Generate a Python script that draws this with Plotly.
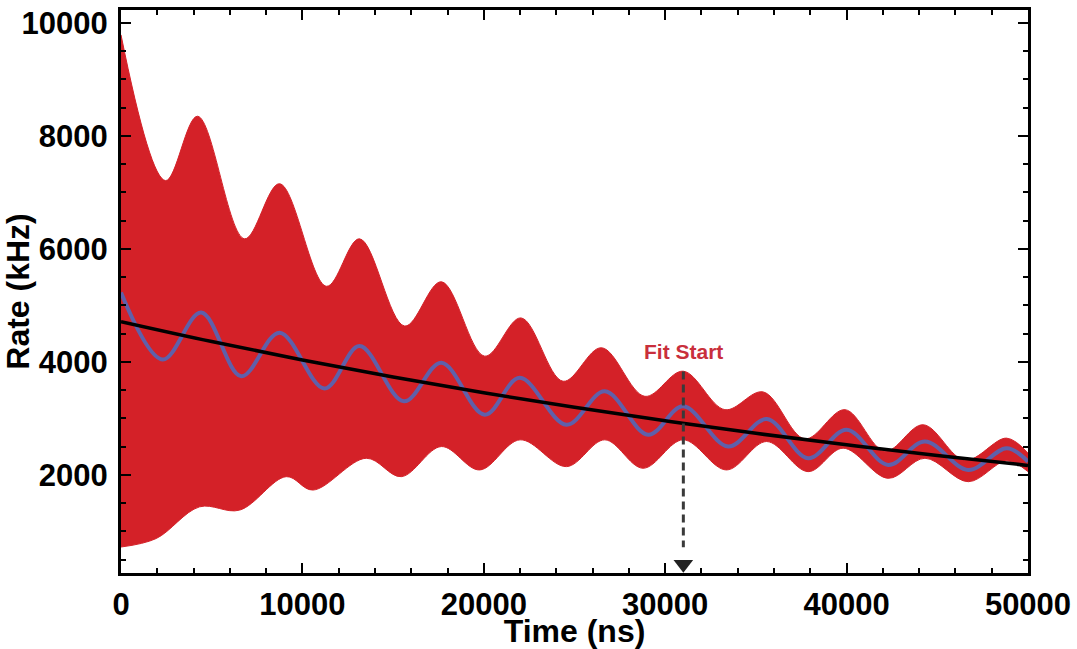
import plotly.graph_objects as go

# ---- data ----
# Upper edge of the red band (time in ns, rate in kHz) - extrema
time_upper = [0, 2455, 4220, 6810, 8740, 11330, 13150, 15640, 17660, 20050, 22050,
              24370, 26490, 28880, 30990, 33290, 35400, 37700, 39910, 42110, 44220,
              46520, 48820, 50000]
rate_upper = [9790, 7210, 8350, 6180, 7155, 5340, 6180, 4636, 5420, 4103, 4780,
              3659, 4252, 3392, 3837, 3156, 3470, 2640, 3156, 2420, 2889,
              2260, 2652, 2385]

# Lower edge of the red band
time_lower = [0, 1940, 4330, 6540, 9110, 10580, 13520, 15450, 17660, 19770, 22000,
              24560, 26670, 28780, 30990, 33380, 35590, 37880, 39810, 42290, 44320,
              46710, 48820, 50000]
rate_lower = [725, 875, 1436, 1378, 1970, 1733, 2296, 1970, 2503, 2089, 2622,
              2148, 2622, 2119, 2622, 2089, 2592, 2059, 2474, 1941, 2296,
              1881, 2250, 2060]

# Blue oscillating curve
time_blue = [0, 2300, 4420, 6630, 8740, 11220, 13150, 15600, 17660, 20050, 21980,
             24560, 26670, 29060, 30990, 33470, 35600, 37880, 40000, 42290, 44320,
             46710, 48830, 50000]
rate_blue = [5230, 4044, 4874, 3748, 4519, 3530, 4281, 3303, 3986, 3067, 3719,
             2889, 3481, 2711, 3215, 2504, 2990, 2296, 2800, 2178, 2592,
             2089, 2474, 2237]

# Black smooth decay curve
time_black = [0, 5000, 10000, 15000, 20000, 25000, 30000, 35000, 40000, 45000, 50000]
rate_black = [4714, 4362, 4036, 3735, 3455, 3197, 2959, 2737, 2533, 2344, 2169]

# Fit start marker
fit_start_time = 31000
fit_arrow_top = 3830
fit_arrow_tip = 420
fit_label_rate = 4190
fit_label = "Fit Start"

x_ticks = [0, 10000, 20000, 30000, 40000, 50000]
y_ticks = [2000, 4000, 6000, 8000, 10000]
x_range = [0, 50000]
y_range = [265, 10230]

RED = "#d42128"
BLUE = "#5f60aa"
FONT = "Liberation Sans, Arial, Helvetica, sans-serif"

fig = go.Figure()

fig.add_trace(go.Scatter(
    x=time_lower, y=rate_lower, mode="lines",
    line=dict(color=RED, width=1, shape="spline", smoothing=1.0),
    hoverinfo="skip", showlegend=False))
fig.add_trace(go.Scatter(
    x=time_upper, y=rate_upper, mode="lines", fill="tonexty", fillcolor=RED,
    line=dict(color=RED, width=1, shape="spline", smoothing=1.0),
    hoverinfo="skip", showlegend=False))
fig.add_trace(go.Scatter(
    x=time_blue, y=rate_blue, mode="lines",
    line=dict(color=BLUE, width=4, shape="spline", smoothing=1.0),
    showlegend=False))
fig.add_trace(go.Scatter(
    x=time_black, y=rate_black, mode="lines",
    line=dict(color="black", width=3.5, shape="spline", smoothing=1.0),
    showlegend=False))

# dashed arrow for fit start
fig.add_trace(go.Scatter(
    x=[fit_start_time, fit_start_time], y=[fit_arrow_top, fit_arrow_tip + 300],
    mode="lines", line=dict(color="#3a3a3a", width=3, dash="8px,5px"),
    hoverinfo="skip", showlegend=False))
fig.add_trace(go.Scatter(
    x=[fit_start_time], y=[fit_arrow_tip], mode="markers",
    marker=dict(symbol="triangle-down", size=17, color="#222222"),
    hoverinfo="skip", showlegend=False))

fig.add_annotation(x=fit_start_time, y=fit_label_rate, text=fit_label, showarrow=False,
                   font=dict(family=FONT, size=21, color="#c92f3c", weight="bold"),
                   xanchor="center", yanchor="middle")

axis_common = dict(
    showgrid=False, zeroline=False, automargin=False,
    showline=True, linecolor="black", linewidth=3, mirror="allticks",
    ticks="inside", ticklen=10, tickwidth=2, tickcolor="black",
    tickfont=dict(family=FONT, size=31, color="black", weight="bold"),
)

fig.update_xaxes(
    range=x_range, tickvals=x_ticks, ticktext=[str(v) for v in x_ticks],
    ticklabelstandoff=2,
    minor=dict(ticks="inside", ticklen=5, tickwidth=1.5, tickcolor="black", dtick=2000, tick0=0),
    title=dict(text="Time (ns)", font=dict(family=FONT, size=32, color="black", weight="bold"), standoff=0),
    **axis_common)
fig.update_yaxes(
    range=y_range, tickvals=y_ticks, ticktext=[str(v) for v in y_ticks],
    ticklabelstandoff=4,
    minor=dict(ticks="inside", ticklen=5, tickwidth=1.5, tickcolor="black", dtick=500, tick0=0),
    title=dict(text="Rate (kHz)", font=dict(family=FONT, size=32, color="black", weight="bold"), standoff=4),
    **axis_common)

fig.update_layout(
    width=1077, height=649,
    margin=dict(l=121, r=49, t=10, b=76),
    plot_bgcolor="white", paper_bgcolor="white",
    showlegend=False,
)

fig.write_html("out.html", config={"displayModeBar": False},
               post_script="document.body.style.margin='0';")
